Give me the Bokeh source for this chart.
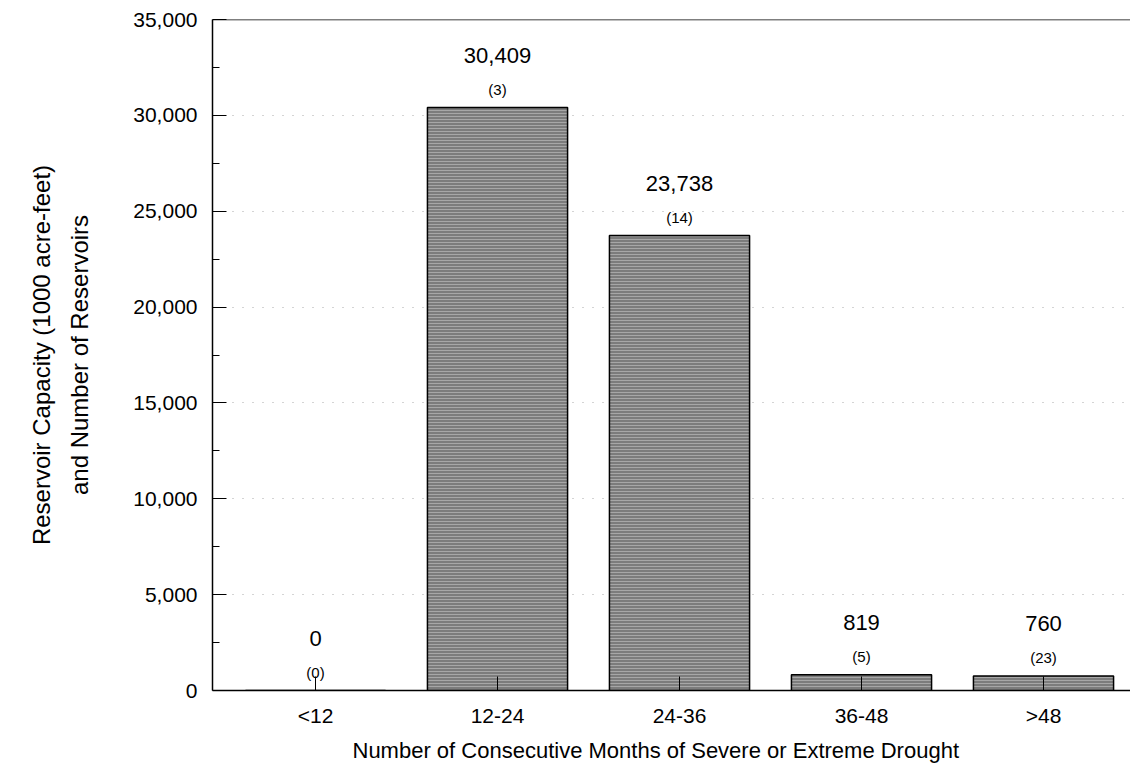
from bokeh.plotting import figure
from bokeh.models import ColumnDataSource, FixedTicker, Title, Span, NumeralTickFormatter
from bokeh.core.properties import value
from bokeh.embed import file_html
from bokeh.resources import INLINE

categories = ["<12", "12-24", "24-36", "36-48", ">48"]
capacity = [0, 30409, 23738, 819, 760]
reservoirs = [0, 3, 14, 5, 23]
y_ticks = [0, 5000, 10000, 15000, 20000, 25000, 30000, 35000]

FONT = "Liberation Sans"
xs = list(range(len(categories)))
src = ColumnDataSource(dict(
    x=xs,
    top=capacity,
    cap_label=[f"{v:,}" for v in capacity],
    n_label=[f"({n})" for n in reservoirs],
))

p = figure(width=1130, height=768, output_backend="svg", toolbar_location=None,
           x_range=(-0.566, 4.478), y_range=(0, 35000),
           min_border_left=212, min_border_top=19, min_border_bottom=76, min_border_right=0)
p.outline_line_color = None
p.background_fill_color = "white"

p.vbar(x="x", top="top", bottom=0, width=0.77, source=src,
       fill_color="#7c7c7c", line_color="black", line_width=1.5,
       hatch_pattern="horizontal_line", hatch_color="#c4c4c4", hatch_scale=3, hatch_weight=0.6)

p.text(x="x", y="top", text="cap_label", source=src, y_offset=-52,
       text_align="center", text_baseline="middle", text_font=value(FONT),
       text_font_size="22px", text_color="black")
p.text(x="x", y="top", text="n_label", source=src, y_offset=-18,
       text_align="center", text_baseline="middle", text_font=value(FONT),
       text_font_size="15px", text_color="black")

p.add_layout(Span(location=35000, dimension="width", line_color="black", line_width=1.5))

# grids
p.xgrid.grid_line_color = None
p.ygrid.grid_line_color = "#a8a8a8"
p.ygrid.grid_line_dash = "1 9"
p.ygrid.grid_line_width = 1

# y axis
ya = p.yaxis[0]
ya.ticker = FixedTicker(ticks=y_ticks, minor_ticks=[v + 2500 for v in y_ticks[:-1]])
ya.formatter = NumeralTickFormatter(format="0,0")
ya.major_tick_in = 14
ya.major_tick_out = 0
ya.minor_tick_in = 7
ya.minor_tick_out = 0
ya.axis_line_color = "black"
ya.axis_line_width = 1.5
ya.major_label_text_font = FONT
ya.major_label_text_font_size = "21px"
ya.major_label_text_color = "black"
ya.major_label_standoff = 15
ya.axis_label = "and Number of Reservoirs"
ya.axis_label_text_font = FONT
ya.axis_label_text_font_size = "24px"
ya.axis_label_text_font_style = "normal"
ya.axis_label_text_color = "black"
ya.axis_label_standoff = 37

# x axis
xa = p.xaxis[0]
xa.ticker = FixedTicker(ticks=xs)
xa.major_label_overrides = {i: c for i, c in zip(xs, categories)}
xa.major_tick_in = 14
xa.major_tick_out = 0
xa.minor_tick_line_color = None
xa.axis_line_color = "black"
xa.axis_line_width = 1.5
xa.major_label_text_font = FONT
xa.major_label_text_font_size = "21px"
xa.major_label_text_color = "black"
xa.major_label_standoff = 13

p.add_layout(Title(text="Number of Consecutive Months of Severe or Extreme Drought",
                   align="left", offset=140, text_font=FONT, text_font_size="22px",
                   text_font_style="normal", text_color="black", standoff=12), "below")

p.add_layout(Title(text="Reservoir Capacity (1000 acre-feet)", align="center", text_font=FONT,
                   text_font_size="24px", text_font_style="normal", text_color="black",
                   standoff=18), "left")

open("out.html", "w").write(file_html(p, INLINE))
